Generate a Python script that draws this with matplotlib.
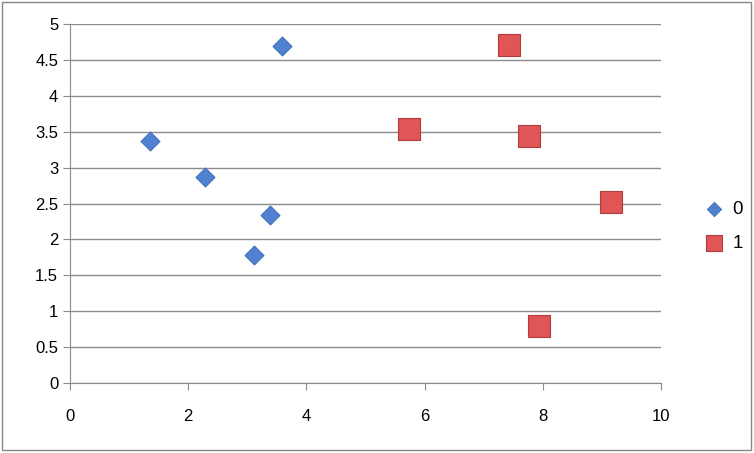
import matplotlib.pyplot as plt
from matplotlib.patches import Rectangle

# series "0"
x0 = [1.35, 2.29, 3.39, 3.12, 3.59]
y0 = [3.37, 2.87, 2.34, 1.78, 4.69]
# series "1"
x1 = [5.73, 7.42, 7.77, 9.16, 7.93]
y1 = [3.54, 4.71, 3.44, 2.52, 0.79]

xticks = [0, 2, 4, 6, 8, 10]
yticks = [0, 0.5, 1, 1.5, 2, 2.5, 3, 3.5, 4, 4.5, 5]
ylabels = ['0', '0.5', '1', '1.5', '2', '2.5', '3', '3.5', '4', '4.5', '5']

plt.rcParams['font.family'] = ['Liberation Sans', 'DejaVu Sans']

fig = plt.figure(figsize=(7.54, 4.53), dpi=100)
fig.patches.append(Rectangle((2 / 754, 3 / 453), 749 / 754, 448 / 453,
                             transform=fig.transFigure, fill=False,
                             edgecolor='#888888', linewidth=1))
ax = fig.add_axes([70 / 754, 1 - 383 / 453, 591 / 754, 359 / 453])

ax.scatter(x0, y0, marker='D', s=95, color='#4f81d0', edgecolor='#3a6bb5',
           linewidth=0.6, zorder=3, label='0')
ax.scatter(x1, y1, marker='s', s=260, color='#e05555', edgecolor='#b03c3c',
           linewidth=0.8, zorder=3, label='1')

ax.set_xlim(0, 10)
ax.set_ylim(0, 5)
ax.set_xticks(xticks)
ax.set_xticklabels([str(t) for t in xticks])
ax.set_yticks(yticks)
ax.set_yticklabels(ylabels)
ax.yaxis.grid(True, color='#8c8c8c', linewidth=1)
ax.set_axisbelow(True)
for s in ['top', 'right']:
    ax.spines[s].set_visible(False)
for s in ['left', 'bottom']:
    ax.spines[s].set_color('#8c8c8c')
ax.tick_params(axis='both', colors='#8c8c8c', labelcolor='black',
               labelsize=12, length=5)
ax.tick_params(axis='x', pad=14)

leg = fig.legend(loc='center left', bbox_to_anchor=(678 / 754, 1 - 226 / 453),
                 frameon=False, fontsize=13.5, handletextpad=0.0,
                 labelspacing=0.9, markerscale=0.75)

fig.savefig('out.png', dpi=100)
